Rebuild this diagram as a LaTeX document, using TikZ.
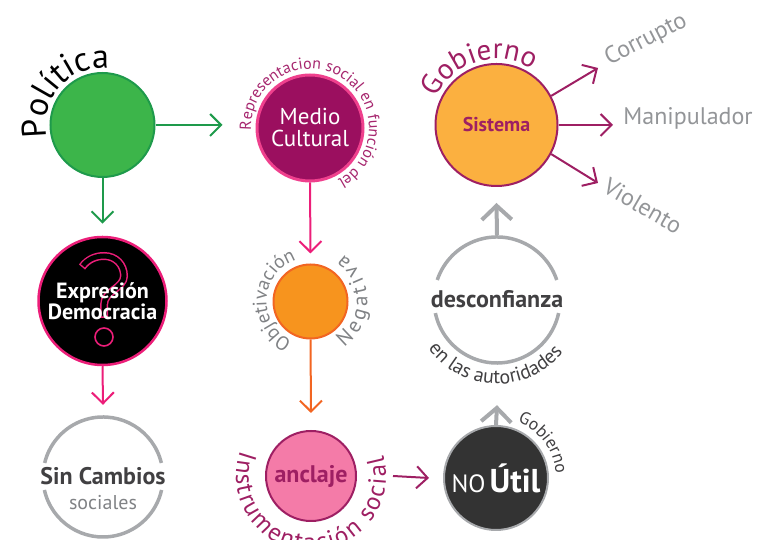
\documentclass[tikz,border=0pt]{standalone}
\usepackage{fontspec}
\setmainfont{PT Sans}
\usetikzlibrary{arrows.meta,decorations.text}
\definecolor{cgreen}{HTML}{3CB54A}
\definecolor{cgreenline}{HTML}{1E9A4B}
\definecolor{cmag}{HTML}{9E1F63}
\definecolor{cmedio}{HTML}{9B0F5F}
\definecolor{cpink}{HTML}{EC1E79}
\definecolor{corange}{HTML}{F7941E}
\definecolor{corangeline}{HTML}{F26522}
\definecolor{csis}{HTML}{FBB040}
\definecolor{canc}{HTML}{F47BA8}
\definecolor{cdark}{HTML}{333333}
\definecolor{cgray}{HTML}{A7A9AC}
\definecolor{clabel}{HTML}{939598}
\definecolor{cmid}{HTML}{808285}
\definecolor{ctext}{HTML}{414042}
\definecolor{cmedtext}{HTML}{A6266E}
\newcommand\fs[1]{\fontsize{#1}{#1}\selectfont}
% center, radius, start, end, format, text, alignment
\newcommand\arctext[7]{%
  \path[decorate, decoration={text along path, text align=#7, text={|#5|#6}}]
    (#1) ++(#3:#2) arc[start angle=#3, end angle=#4, radius=#2];}
\tikzset{
  circ/.style={circle, inner sep=0pt, minimum size=#1},
  arr/.style={line width=2pt, -{Straight Barb[length=11pt,width=22pt]}},
  garr/.style={line width=4pt, cgray, -{Straight Barb[length=14pt,width=30pt]}},
  gcirc/.style={line width=3.5pt, cgray},
  lab/.style={text=clabel, font=\fs{24}, inner sep=0pt},
}
\begin{document}
\begin{tikzpicture}[x=1pt,y=1pt]
\useasboundingbox (0,0) rectangle (771,540);
\clip (0,0) rectangle (771,540);
% circles
\node[circ=104pt, fill=cgreen, draw=cgreenline, line width=2pt] (pol) at (102.5,415) {};
\node[circ=106pt, fill=cmedio, draw=cpink!85!white, line width=3pt, text=white, align=center, font=\fs{23}] (medio) at (310,412) {Medio\\[-1pt]Cultural};
\node[circ=122pt, fill=csis, draw=cmag, line width=2pt, text=cmag, font=\fs{20}\bfseries] (sistema) at (496.5,415) {Sistema};
\node[circ=128pt, fill=black, draw=cpink, line width=2.5pt] (expr) at (102.5,239) {};
\node[circ=74pt, fill=corange, draw=corangeline, line width=2pt] (orange) at (310.5,238.5) {};
\node[circ=126pt] (desconf) at (497,240) {};
\node[circ=120pt] (sincamb) at (103,63) {};
\node[circ=90pt, fill=canc, draw=cmag, line width=2pt, text=cmag, font=\fs{24}\bfseries] (anclaje) at (311,64) {anclaje};
\node[circ=104pt, fill=cdark, draw=cgray, line width=2pt, text=white] (noutil) at (496,62) {{\fs{25}NO}\kern4pt{\fs{33}\bfseries Útil}};
% question mark
\draw[cpink, line width=8pt] (82,273) .. controls (88,281) and (96,284) .. (104,284) .. controls (116,284) and (124,275) .. (124,264) .. controls (124,252) and (104,249) .. (104,235) -- (104,222);
\draw[black, line width=5pt, shorten <=1.5pt, shorten >=1.5pt] (82,273) .. controls (88,281) and (96,284) .. (104,284) .. controls (116,284) and (124,275) .. (124,264) .. controls (124,252) and (104,249) .. (104,235) -- (104,222);
\draw[cpink, line width=1.6pt, fill=black] (104,203) circle[radius=9];
\node[text=white, align=center, font=\fs{22}\bfseries] (exprtext) at (expr.center) {Expresión\\[-1pt]Democracia};
% grey open circles
\draw[gcirc] (desconf.center) ++(18.5:63) arc[start angle=18.5, end angle=161.5, radius=63];
\draw[gcirc] (desconf.center) ++(192:63) arc[start angle=192, end angle=348, radius=63];
\node[anchor=base, text=ctext, font=\fs{24}\bfseries] (destext) at (497,232) {desconfianza};
\draw[gcirc] (sincamb.center) ++(13.5:60) arc[start angle=13.5, end angle=166.5, radius=60];
\draw[gcirc] (sincamb.center) ++(192.5:60) arc[start angle=192.5, end angle=347.5, radius=60];
\node[anchor=base, text=ctext, font=\fs{24}\bfseries] (sintext) at (103,55) {Sin Cambios};
\node[anchor=base, text=cmid, font=\fs{20}] (soctext) at (103,30) {sociales};
% curved texts
\arctext{pol.center}{57}{228}{48}{\fs{34}\color{black}}{Política}{center}
\arctext{medio.center}{59}{210}{-90}{\fs{16}\color{cmedtext}}{Representacion social en función del}{center}
\arctext{orange.center}{44}{267}{87}{\fs{19.5}\color{cmid}}{Objetivación}{center}
\arctext{orange.center}{57}{-54}{55}{\fs{21}\color{cmid}}{Negativa}{fit to path}
\arctext{sistema.center}{66}{196.5}{16.5}{\fs{29}\color{cmag}}{Gobierno}{center}
\arctext{desconf.center}{84}{178.5}{358.5}{\fs{20}\color{ctext}}{en las autoridades}{center}
\arctext{anclaje.center}{75}{160}{376}{\fs{25}\color{cmag}}{Instrumentación social}{fit to path}
\arctext{noutil.center}{60}{96.5}{-23.5}{\fs{17.5}\color{ctext}}{Gobierno}{center}
% labels
\node[lab, rotate=27] (corr) at (646,500) {Corrupto};
\node[lab] (manip) at (688,422) {Manipulador};
\node[lab, rotate=-30] (viol) at (643,334) {Violento};
\coordinate (tc) at (598,472);
\coordinate (tm) at (613,415);
\coordinate (tv) at (598,357);
% connectors
\draw[arr, cgreenline] (pol.east) -- ([xshift=-33pt]medio.west |- pol.east);
\draw[arr, cgreenline] (pol.south) -- ([yshift=12pt]expr.north);
\draw[arr, cpink] (medio.south) -- ([yshift=10pt]orange.north);
\draw[arr, corangeline] (orange.south) -- ([yshift=17pt]anclaje.north);
\draw[arr, cpink] (expr.south) -- ([yshift=12pt]sincamb.north);
\draw[arr, cmag] ([xshift=36pt]anclaje.east) -- ([xshift=-14pt]noutil.west);
\draw[garr] (noutil.north) -- ([yshift=-42pt]desconf.south);
\draw[garr] ([yshift=1.75pt]desconf.north) -- ([yshift=-16pt]sistema.south);
\draw[arr, cmag] (sistema.28) -- (tc);
\draw[arr, cmag] (sistema.east) -- (tm);
\draw[arr, cmag] (sistema.-28) -- (tv);
\end{tikzpicture}
\end{document}
